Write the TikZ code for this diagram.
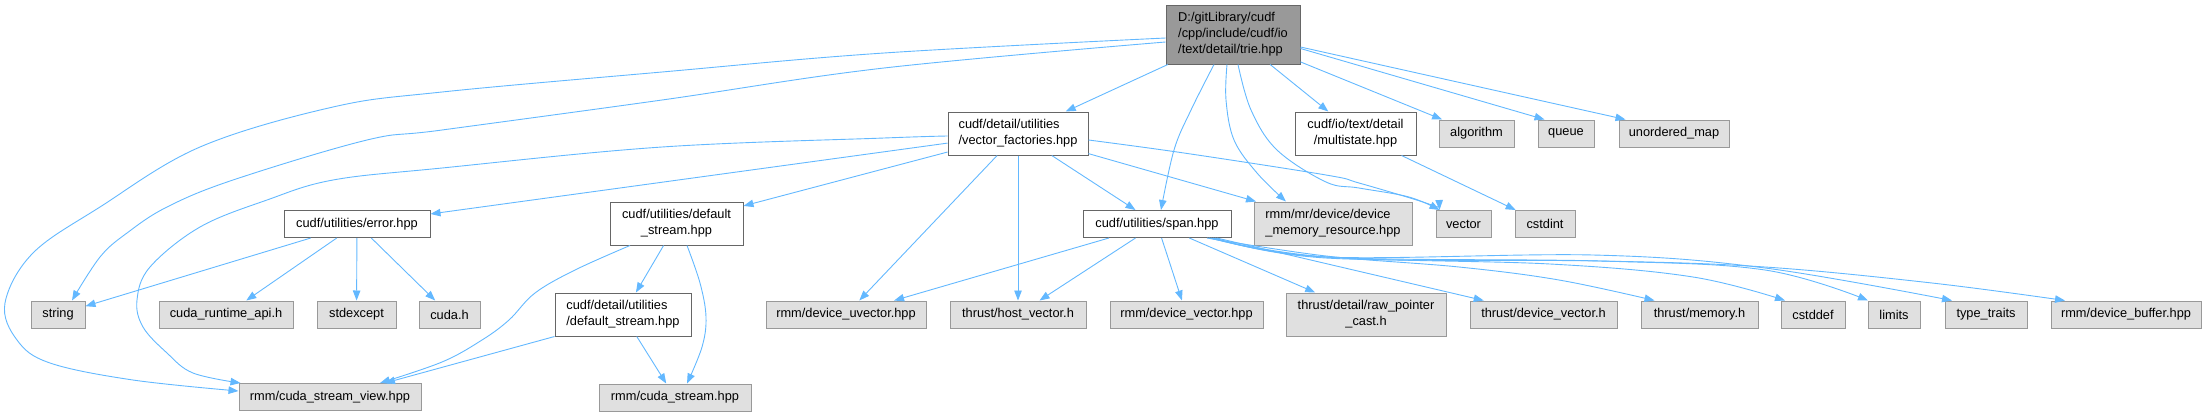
\documentclass[tikz,border=0pt]{standalone}
\usepackage{fontspec}
\setmainfont{Liberation Sans}
\usetikzlibrary{arrows.meta}
\definecolor{edgecol}{HTML}{63B8FF}
\definecolor{gfill}{HTML}{E0E0E0}
\definecolor{gline}{HTML}{999999}
\definecolor{mfill}{HTML}{999999}
\definecolor{mline}{HTML}{666666}
\begin{document}
\begin{tikzpicture}[x=1pt,y=-1pt,
  box/.style={draw, line width=1pt, inner sep=0pt, font=\fontsize{12.8}{16}\selectfont},
  sysbox/.style={box, draw=gline, fill=gfill},
  filebox/.style={box, draw=mline, fill=white},
  mainbox/.style={box, draw=mline, fill=mfill},
  edge/.style={draw=edgecol, line width=0.9pt, -{Triangle[length=10pt,width=7.5pt]}},
  crv/.style={edge, smooth, tension=0.6},
]
\useasboundingbox (0,0) rectangle (2207,416);

% ---- nodes ----
\node[mainbox, align=left, minimum width=134pt, minimum height=59pt] (main) at (1233,34.5)
  {D:/gitLibrary/cudf\\/cpp/include/cudf/io\\/text/detail/trie.hpp};
\node[filebox, align=left, minimum width=140pt, minimum height=43pt] (vf) at (1018,133.5)
  {cudf/detail/utilities\\/vector\_factories.hpp};
\node[filebox, align=center, minimum width=121pt, minimum height=43pt] (ms) at (1355.5,133.5)
  {cudf/io/text/detail\\/multistate.hpp};
\node[sysbox, minimum width=75pt, minimum height=27pt] (alg) at (1476.5,133.5) {algorithm};
\node[sysbox, minimum width=56pt, minimum height=27pt] (queue) at (1566,133.5) {queue};
\node[sysbox, minimum width=110pt, minimum height=27pt] (umap) at (1674,133.5) {unordered\_map};

\node[filebox, minimum width=146pt, minimum height=27pt] (err) at (357,224) {cudf/utilities/error.hpp};
\node[filebox, align=center, minimum width=133pt, minimum height=43pt] (ds) at (676.5,223.5)
  {cudf/utilities/default\\\_stream.hpp};
\node[filebox, minimum width=148pt, minimum height=27pt] (span) at (1157,224) {cudf/utilities/span.hpp};
\node[sysbox, align=left, minimum width=158pt, minimum height=43pt] (mr) at (1333,223.5)
  {rmm/mr/device/device\\\_memory\_resource.hpp};
\node[sysbox, minimum width=55pt, minimum height=27pt] (vec) at (1463.5,224) {vector};
\node[sysbox, minimum width=60pt, minimum height=27pt] (cstdint) at (1545,224) {cstdint};

\node[sysbox, minimum width=54pt, minimum height=27pt] (string) at (58,314.5) {string};
\node[sysbox, minimum width=134pt, minimum height=27pt] (cra) at (226,314.5) {cuda\_runtime\_api.h};
\node[sysbox, minimum width=79pt, minimum height=27pt] (stdexc) at (356.5,314.5) {stdexcept};
\node[sysbox, minimum width=61pt, minimum height=27pt] (cudah) at (449.5,314.5) {cuda.h};
\node[filebox, align=left, minimum width=136pt, minimum height=43pt] (dds) at (623,314.5)
  {cudf/detail/utilities\\/default\_stream.hpp};
\node[sysbox, minimum width=160pt, minimum height=27pt] (duvec) at (846,314.5) {rmm/device\_uvector.hpp};
\node[sysbox, minimum width=136pt, minimum height=27pt] (hvec) at (1018,314.5) {thrust/host\_vector.h};
\node[sysbox, minimum width=153pt, minimum height=27pt] (dvec) at (1186.5,314.5) {rmm/device\_vector.hpp};
\node[sysbox, align=center, minimum width=160pt, minimum height=43pt] (rpc) at (1366,314.5)
  {thrust/detail/raw\_pointer\\\_cast.h};
\node[sysbox, minimum width=147pt, minimum height=27pt] (tdvec) at (1543.5,314.5) {thrust/device\_vector.h};
\node[sysbox, minimum width=117pt, minimum height=27pt] (tmem) at (1699.5,314.5) {thrust/memory.h};
\node[sysbox, minimum width=64pt, minimum height=27pt] (cstddef) at (1813,314.5) {cstddef};
\node[sysbox, minimum width=52pt, minimum height=27pt] (limits) at (1894,314.5) {limits};
\node[sysbox, minimum width=82pt, minimum height=27pt] (ttraits) at (1986,314.5) {type\_traits};
\node[sysbox, minimum width=150pt, minimum height=27pt] (dbuf) at (2126,314.5) {rmm/device\_buffer.hpp};

\node[sysbox, minimum width=182pt, minimum height=27pt] (csv) at (330,397) {rmm/cuda\_stream\_view.hpp};
\node[sysbox, minimum width=152pt, minimum height=27pt] (cs) at (675,397.5) {rmm/cuda\_stream.hpp};

% ---- edges from main ----
\draw[edge] (main) -- (vf);
\draw[edge] (main) -- (ms);
\draw[edge] (main) -- (alg);
\draw[edge] ([yshift=-14pt]main.east) -- ([xshift=7pt]queue.north west);
\draw[edge] ([yshift=-12.5pt]main.east) -- ([xshift=7pt]umap.north west);
\draw[crv] plot coordinates {([xshift=-19pt]main.south) (1191,110) (1174,150) ([xshift=4pt]span.north)};
\draw[crv] plot coordinates {([xshift=-6pt]main.south) (1226,100) (1234,140) (1257,173) ([xshift=-47pt]mr.north)};
\draw[crv] plot coordinates {([xshift=5pt]main.south) (1251,110) (1277,150) (1326,182) (1359,188) (1409,197) ([xshift=4pt]vec.north west)};
\draw[crv] plot coordinates {([yshift=-7.5pt]main.west) (884,68) (662,100) (442,130) (367,140) (233,180) (167,207) (127,233) (100,257) ([xshift=14pt]string.north)};
\draw[crv] plot coordinates {([yshift=-3.5pt]main.west) (884,53) (662,72) (442,92) (333,107) (200,147) (100,207) (33,253) (5,303) (17,340) (50,363) (133,380) ([yshift=6pt]csv.west)};

% ---- edges from vector_factories ----
\draw[crv] plot coordinates {([yshift=-2.5pt]vf.west) (884,138) (662,147) (442,168) (333,180) (267,200) (200,227) (150,267) (137,300) (143,327) (167,353) (193,373) ([xshift=2pt]csv.north west)};
\draw[edge] (vf) -- (err);
\draw[edge] (vf) -- (ds);
\draw[edge] (vf) -- (duvec);
\draw[edge] (vf) -- (hvec);
\draw[edge] (vf) -- (span);
\draw[edge] (vf) -- (mr);
\draw[crv] plot coordinates {([yshift=-6.5pt]vf.east) (1184,153) (1326,175) (1359,183) (1426,203) ([xshift=4pt]vec.north west)};

% ---- multistate ----
\draw[edge] (ms) -- (cstdint);

% ---- error.hpp ----
\draw[edge] (err) -- (string);
\draw[edge] (err) -- (cra);
\draw[edge] (err) -- (stdexc);
\draw[edge] (err) -- (cudah);

% ---- default_stream ----
\draw[edge] (ds) -- (dds);
\draw[crv] plot coordinates {([xshift=10.5pt]ds.south) (700,283) (706,317) (702,347) ([xshift=12pt]cs.north)};
\draw[crv] plot coordinates {([xshift=-46.5pt]ds.south) (575,270) (535,293) (509,320) (482,340) (442,362) ([xshift=50pt]csv.north)};
\draw[edge] (dds.south west) -- ([xshift=55pt]csv.north);
\draw[edge] (dds) -- (cs);

% ---- span.hpp ----
\draw[edge] (span) -- (duvec);
\draw[edge] (span) -- (hvec);
\draw[edge] (span) -- (dvec);
\draw[edge] (span) -- (rpc);
\draw[edge] (span) -- (tdvec);
\draw[crv] plot coordinates {([xshift=50pt]span.south) (1326,256) (1459,267) (1559,280) ([xshift=-45pt]tmem.north)};
\draw[crv] plot coordinates {([xshift=52pt]span.south) (1326,257) (1550,264) (1693,277) ([xshift=-28pt]cstddef.north)};
\draw[crv] plot coordinates {([xshift=54pt]span.south) (1326,257) (1600,261) (1765,270) ([xshift=-26pt]limits.north)};
\draw[crv] plot coordinates {([xshift=56pt]span.south) (1326,257) (1593,255) (1765,268) ([xshift=-34pt]ttraits.north)};
\draw[crv] plot coordinates {([xshift=58pt]span.south) (1326,258) (1600,261) (1765,267) (1932,283) ([xshift=-61pt]dbuf.north)};
\end{tikzpicture}
\end{document}
